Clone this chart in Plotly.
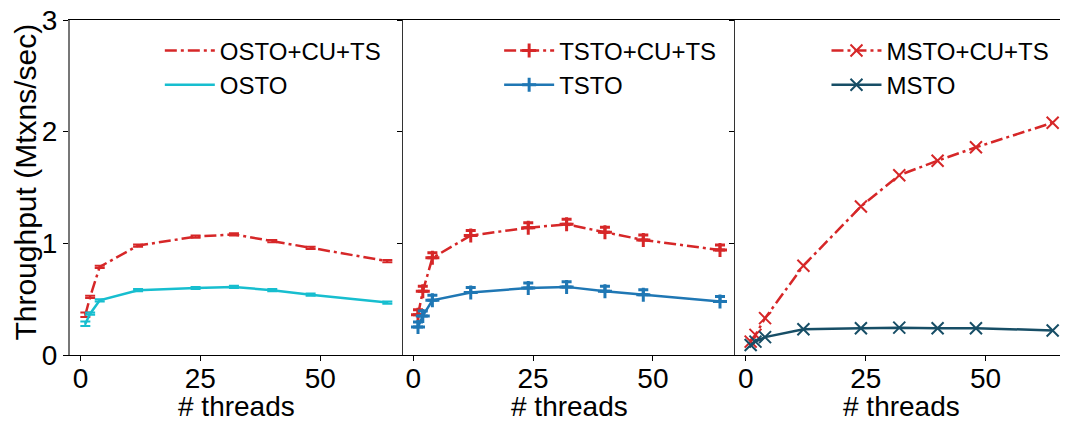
import plotly.graph_objects as go
from plotly.subplots import make_subplots

threads = [1, 2, 4, 12, 24, 32, 40, 48, 64]

# Panel 1 (OSTO)
osto_cu_ts = [0.36, 0.52, 0.79, 0.98, 1.06, 1.08, 1.02, 0.96, 0.84]
osto_cu_ts_err = [0.02, 0.01, 0.01, 0.01, 0.01, 0.01, 0.01, 0.01, 0.01]
osto = [0.28, 0.37, 0.49, 0.58, 0.60, 0.61, 0.58, 0.54, 0.47]
osto_err = [0.02, 0.01, 0.01, 0.01, 0.01, 0.01, 0.01, 0.01, 0.01]

# Panel 2 (TSTO)
tsto_cu_ts = [0.36, 0.57, 0.87, 1.07, 1.14, 1.17, 1.10, 1.03, 0.94]
tsto = [0.25, 0.35, 0.49, 0.56, 0.60, 0.61, 0.57, 0.54, 0.48]
tsto_err = [0.045] * 9

# Panel 3 (MSTO)
msto_cu_ts = [0.12, 0.18, 0.33, 0.80, 1.33, 1.61, 1.74, 1.86, 2.08]
msto = [0.09, 0.12, 0.16, 0.23, 0.24, 0.245, 0.24, 0.24, 0.22]

x_ticks = [0, 25, 50]
y_ticks = [0, 1, 2, 3]
x_title = "# threads"
y_title = "Throughput (Mtxns/sec)"

RED = "#d62728"
CYAN = "#17becf"
BLUE = "#1f77b4"
DARK = "#174e66"
FONT = "Liberation Sans, Arial, sans-serif"
DASHDOT = "12px,4px,3px,4px"

fig = make_subplots(rows=1, cols=3, shared_yaxes=True, horizontal_spacing=0)

# Panel 1
fig.add_trace(go.Scatter(
    x=threads, y=osto_cu_ts, mode="lines", name="OSTO+CU+TS",
    line=dict(color=RED, width=2.5, dash=DASHDOT),
    error_y=dict(type="data", array=osto_cu_ts_err, color=RED, thickness=2, width=5),
    legend="legend"), row=1, col=1)
fig.add_trace(go.Scatter(
    x=threads, y=osto, mode="lines", name="OSTO",
    line=dict(color=CYAN, width=2.5),
    error_y=dict(type="data", array=osto_err, color=CYAN, thickness=2, width=5),
    legend="legend"), row=1, col=1)

# Panel 2
fig.add_trace(go.Scatter(
    x=threads, y=tsto_cu_ts, mode="lines+markers", name="TSTO+CU+TS",
    line=dict(color=RED, width=2.5, dash=DASHDOT),
    marker=dict(symbol="cross-thin", size=10, line=dict(color=RED, width=3)),
    error_y=dict(type="data", symmetric=False, array=tsto_err, arrayminus=[0] * 9,
                 color=RED, thickness=3, width=5),
    legend="legend2"), row=1, col=2)
fig.add_trace(go.Scatter(
    x=threads, y=tsto, mode="lines+markers", name="TSTO",
    line=dict(color=BLUE, width=2.5),
    marker=dict(symbol="cross-thin", size=10, line=dict(color=BLUE, width=3)),
    error_y=dict(type="data", symmetric=False, array=tsto_err, arrayminus=[0] * 9,
                 color=BLUE, thickness=3, width=5),
    legend="legend2"), row=1, col=2)

# Panel 3
fig.add_trace(go.Scatter(
    x=threads, y=msto_cu_ts, mode="lines+markers", name="MSTO+CU+TS",
    line=dict(color=RED, width=2.5, dash=DASHDOT),
    marker=dict(symbol="x-thin", size=12, line=dict(color=RED, width=2)),
    legend="legend3"), row=1, col=3)
fig.add_trace(go.Scatter(
    x=threads, y=msto, mode="lines+markers", name="MSTO",
    line=dict(color=DARK, width=2.5),
    marker=dict(symbol="x-thin", size=12, line=dict(color=DARK, width=2)),
    legend="legend3"), row=1, col=3)

for i in range(1, 4):
    fig.update_xaxes(
        range=[-2.2, 67.2], tickvals=x_ticks, ticks="outside", ticklen=5,
        tickcolor="black", showgrid=False, zeroline=False, automargin=False,
        showline=True, linecolor="black", linewidth=1.2, mirror=True,
        ticklabeloverflow="allow", ticklabelstandoff=-7,
        tickfont=dict(family=FONT, size=28, color="black"),
        row=1, col=i)
    fig.update_yaxes(
        range=[0, 3], tickvals=y_ticks, ticks="outside", ticklen=5,
        tickcolor="black", showgrid=False, zeroline=False, automargin=False,
        showline=True, linecolor="#333333" if i > 1 else "#777777",
        linewidth=1.2 if i > 1 else 2, ticklabeloverflow="allow",
        tickfont=dict(family=FONT, size=28, color="black"),
        row=1, col=i)

annotations = []
for xd in ["x domain", "x2 domain", "x3 domain"]:
    annotations.append(dict(text=x_title, xref=xd, yref="paper", x=0.5, y=-0.153,
                            xanchor="center", yanchor="middle", showarrow=False,
                            font=dict(family=FONT, size=28, color="black")))
annotations.append(dict(text=y_title, xref="paper", yref="paper", x=-0.045, y=0.515,
                        xanchor="center", yanchor="middle", textangle=-90, showarrow=False,
                        font=dict(family=FONT, size=30, color="black")))

leg_common = dict(bgcolor="rgba(0,0,0,0)", font=dict(family=FONT, size=24, color="black"),
                  xanchor="left", yanchor="top", y=0.975, itemwidth=50,
                  tracegroupgap=0)
# the page body has an 8px default margin, so the figure's margins are reduced by 8px
fig.update_layout(
    width=1068, height=421,
    margin=dict(l=62, r=8, t=12, b=74, autoexpand=False),
    plot_bgcolor="white", paper_bgcolor="white",
    annotations=annotations,
    legend=dict(x=0.09, **leg_common),
    legend2=dict(x=0.43, **leg_common),
    legend3=dict(x=0.758, **leg_common),
)

fig.write_html("out.html")
